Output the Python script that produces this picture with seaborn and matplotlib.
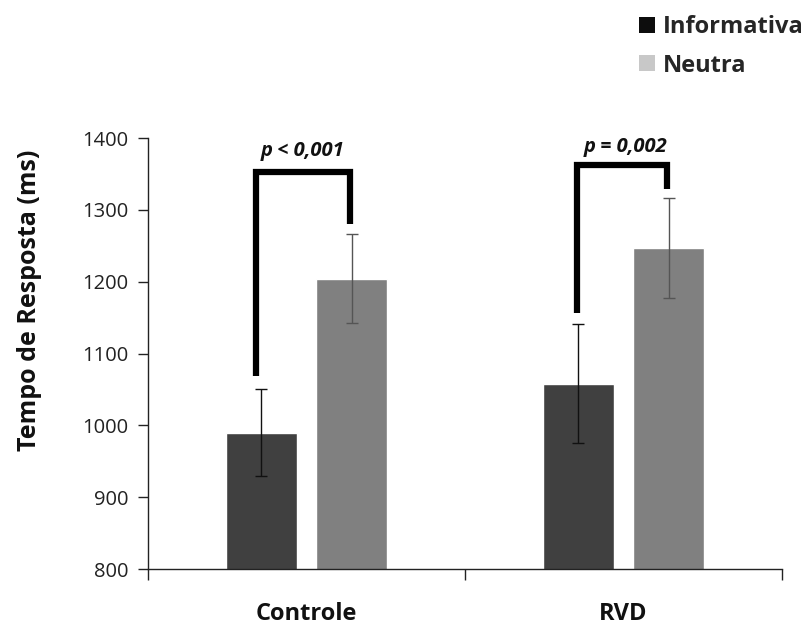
import matplotlib
matplotlib.use("Agg")
import matplotlib.pyplot as plt
from matplotlib.patches import Patch
import seaborn as sns
import pandas as pd
import numpy as np

groups = ["Controle", "RVD"]
conditions = ["Informativa", "Neutra"]
informativa_mean = [990, 1058]
neutra_mean = [1204, 1247]
informativa_err = [60, 83]
neutra_err = [62, 70]
p_labels = ["p < 0,001", "p = 0,002"]
# bracket (left foot, right foot, top) heights in ms
bracket_left = [1068, 1157]
bracket_right = [1280, 1329]
bracket_top = [1353, 1362]

df = pd.DataFrame({
    "grupo": groups * 2,
    "cond": [conditions[0]] * 2 + [conditions[1]] * 2,
    "rt": informativa_mean + neutra_mean,
    "err": informativa_err + neutra_err,
})

sns.set_style("white")
plt.rcParams["font.family"] = ["Open Sans", "DejaVu Sans"]

fig = plt.figure(figsize=(8.09, 6.28), dpi=100)
ax = fig.add_axes([148 / 809, 1 - 569 / 628, (782 - 148) / 809, (569 - 138) / 628])

bar_colors = {"Informativa": "#404040", "Neutra": "#808080"}
sns.barplot(data=df, x="grupo", y="rt", hue="cond", order=groups,
            hue_order=conditions, palette=bar_colors, errorbar=None,
            width=0.57, gap=0.214, ax=ax, legend=False, saturation=1)

# error bars
err_colors = {"Informativa": "#111111", "Neutra": "#555555"}
for ci, cond in enumerate(conditions):
    cont = ax.containers[ci]
    sub = df[df.cond == cond].set_index("grupo").loc[groups]
    xs = [p.get_x() + p.get_width() / 2 for p in cont.patches]
    ax.errorbar(xs, sub["rt"].values, yerr=sub["err"].values, fmt="none",
                ecolor=err_colors[cond], elinewidth=1.0, capsize=4,
                capthick=1.0, zorder=5)

ax.set_ylim(800, 1400)
ax.set_xlim(-0.5, 1.5)
ax.set_yticks([800, 900, 1000, 1100, 1200, 1300, 1400])
ax.tick_params(axis="y", labelsize=14.5, length=7, width=1, direction="out",
               left=True, pad=7, colors="#222222")
ax.tick_params(axis="x", labelsize=17, length=0, pad=24)
for lbl in ax.get_xticklabels():
    lbl.set_fontweight("bold")
    lbl.set_color("#111111")
ax.set_xticks([0, 1])
ax.set_xticks([-0.5, 0.5, 1.5], minor=True)
ax.tick_params(axis="x", which="minor", length=8, width=1, direction="out",
               bottom=True, color="#222222")

for s in ["top", "right"]:
    ax.spines[s].set_visible(False)
for s in ["left", "bottom"]:
    ax.spines[s].set_color("#222222")
    ax.spines[s].set_linewidth(1.0)

ax.set_xlabel("")
ax.set_ylabel("Tempo de Resposta (ms)", fontsize=18, fontweight="bold",
              color="#111111")
ax.yaxis.set_label_coords(-(148 - 42) / 634, (569 - 300) / 431)

# significance brackets
xs_inf = [p.get_x() + p.get_width() / 2 for p in ax.containers[0].patches]
xs_neu = [p.get_x() + p.get_width() / 2 for p in ax.containers[1].patches]
left_shift = [-0.018, -0.005]
for i in range(len(groups)):
    xl = xs_inf[i] + left_shift[i]
    xr = xs_neu[i] - 0.005
    ax.plot([xl, xl, xr, xr], [bracket_left[i], bracket_top[i], bracket_top[i], bracket_right[i]],
            color="black", lw=4.5, solid_joinstyle="miter", solid_capstyle="butt",
            clip_on=False, zorder=6)
    ax.text((xl + xr) / 2 + 0.01 * i, bracket_top[i] + 29 - 4 * i, p_labels[i], ha="center",
            va="center", fontsize=14.5, fontweight="bold", style="italic",
            color="#111111", clip_on=False)

handles = [Patch(facecolor="#0d0d0d", edgecolor="none"),
           Patch(facecolor="#c8c8c8", edgecolor="none")]
fig.legend(handles, conditions, loc="upper left",
           bbox_to_anchor=(630 / 809, 1 - 6 / 628), frameon=False,
           prop={"family": ["Open Sans", "DejaVu Sans"], "weight": "bold", "size": 17},
           handlelength=0.65, handleheight=0.65, handletextpad=0.35,
           labelspacing=0.6, borderaxespad=0)

fig.savefig("out.png", dpi=100)
